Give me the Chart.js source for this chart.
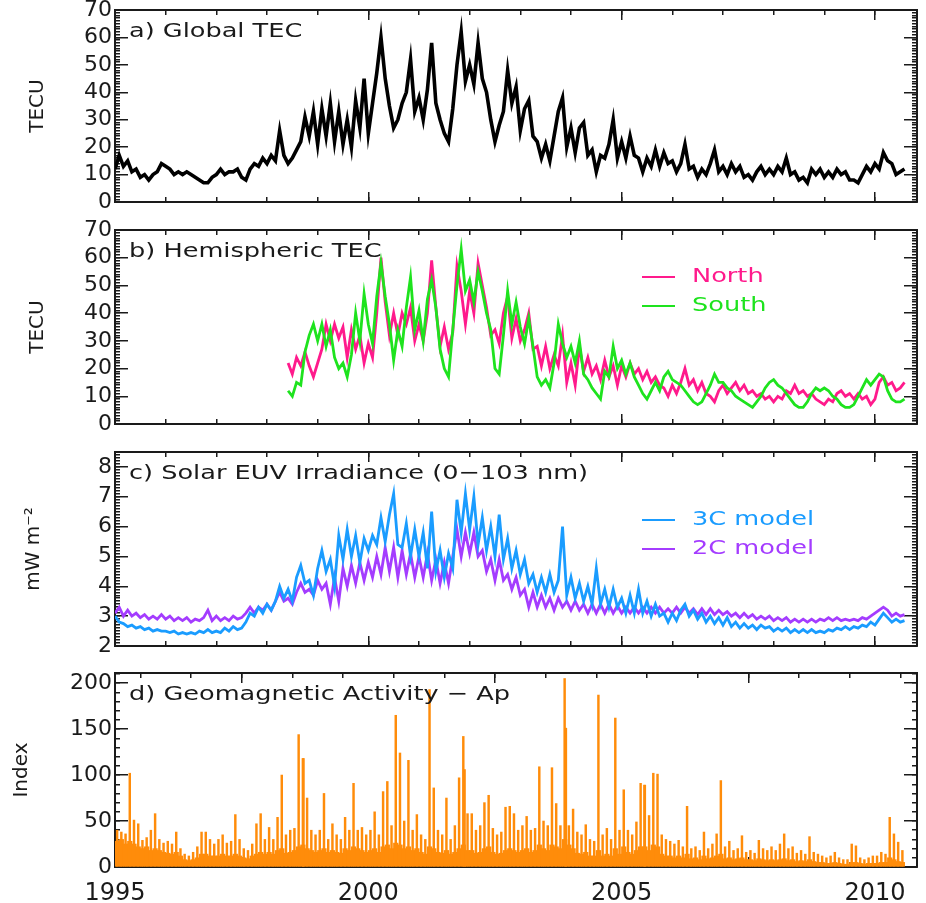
<!DOCTYPE html>
<html lang="en">
<head>
<meta charset="UTF-8">
<title>Global TEC, EUV and Ap, 1995–2010</title>
<script src="https://cdn.jsdelivr.net/npm/chart.js"></script>
<style>
  html, body { margin: 0; padding: 0; background: #fff; }
  #wrap { position: relative; width: 926px; height: 903px; overflow: hidden; }
  #wrap canvas { position: absolute; left: 0; }
</style>
</head>
<body>
<div id="wrap">
  <canvas id="panelA" width="926" height="212" style="top:0px"></canvas>
  <canvas id="panelB" width="926" height="214" style="top:220px"></canvas>
  <canvas id="panelC" width="926" height="214" style="top:442px"></canvas>
  <canvas id="panelD" width="926" height="240" style="top:663px"></canvas>
</div>
<script>
  // --- axis labels ---
  const yearLabels = [1995, 2000, 2005, 2010];
  const tecTicks = [0, 10, 20, 30, 40, 50, 60, 70];
  const euvTicks = [2, 3, 4, 5, 6, 7, 8];
  const apTicks = [0, 50, 100, 150, 200];

  // --- monthly values (Jan 1995 onward) ---
  const tecStart = 1995;
  const globalTec = [
    12,17,13,15,11,12,9,10,8,10,11,14,      // 1995
    13,12,10,11,10,11,10,9,8,7,7,9,         // 1996
    10,12,10,11,11,12,9,8,12,14,13,16,      // 1997
    14,17,15,26,17,14,16,19,22,31,24,33,    // 1998
    21,34,24,36,22,33,21,30,20,37,27,45,    // 1999
    25,36,47,60,45,35,27,30,36,40,52,33,    // 2000
    38,30,41,58,36,30,25,22,34,50,62,44,    // 2001
    50,43,58,45,40,30,22,28,33,48,36,42,    // 2002
    26,34,37,24,22,16,21,15,24,33,38,20,    // 2003
    27,18,27,29,17,19,11,17,16,21,30,16,    // 2004
    22,16,24,17,16,11,16,13,19,13,18,14,    // 2005
    15,11,14,21,12,13,9,12,10,14,19,11,     // 2006
    13,10,14,11,13,9,10,8,11,13,10,12,      // 2007
    10,13,11,16,10,11,8,9,7,12,10,12,       // 2008
    9,11,9,12,10,11,8,8,7,10,13,11,         // 2009
    14,12,18,15,14,10,11,12                 // 2010
  ];

  // hemispheric series start in June 1998
  const hemiStart = 1998 + 5 / 12;
  const northTec = [
    22,18,24,21,26,21,17,                   // 1998
    22,27,36,30,36,31,35,24,34,27,32,22,    // 1999
    29,24,40,60,44,32,40,32,40,36,42,30,    // 2000
    36,30,40,59,42,28,35,27,33,57,48,36,    // 2001
    48,40,58,50,42,32,34,29,40,46,31,38,    // 2002
    30,34,40,27,28,21,28,20,25,21,32,15,    // 2003
    22,14,28,19,24,18,21,16,23,17,21,14,    // 2004
    21,17,22,18,20,16,19,15,17,14,13,10,    // 2005
    14,11,15,20,14,16,12,15,11,10,8,12,     // 2006
    14,11,13,15,12,14,11,12,10,11,9,10,     // 2007
    8,10,9,12,11,14,11,12,10,11,9,8,        // 2008
    7,9,8,11,12,10,11,9,11,9,10,7,          // 2009
    9,15,17,14,15,12,13,15                  // 2010
  ];
  const southTec = [
    12,10,15,14,26,32,36,                   // 1998
    30,36,28,34,24,20,22,17,25,40,30,47,    // 1999
    36,29,46,58,46,36,23,34,28,42,53,34,    // 2000
    41,30,45,52,42,27,20,17,34,50,63,48,    // 2001
    52,44,55,48,40,34,20,18,32,48,36,44,    // 2002
    35,29,38,28,17,14,16,13,22,36,29,24,    // 2003
    28,22,30,18,16,13,11,9,19,17,28,20,     // 2004
    23,18,22,17,14,11,9,12,15,12,17,19,     // 2005
    16,15,14,12,10,8,7,8,11,14,18,15,       // 2006
    15,13,12,10,9,8,7,6,8,10,13,15,         // 2007
    16,14,13,11,9,7,6,6,8,11,13,12,         // 2008
    13,12,10,9,7,6,6,7,10,13,16,14,         // 2009
    16,18,17,12,9,8,8,9                     // 2010
  ];

  const euv3c = [
    3.0,2.8,2.75,2.65,2.7,2.6,2.65,2.55,2.6,2.5,2.55,2.5,
    2.5,2.45,2.5,2.4,2.45,2.4,2.45,2.4,2.5,2.45,2.55,2.45,
    2.5,2.45,2.6,2.5,2.65,2.55,2.6,2.8,3.1,3.0,3.3,3.1,
    3.4,3.2,3.5,4.0,3.6,3.9,3.5,4.3,4.7,4.1,4.2,3.7,
    4.6,5.2,4.5,4.9,4.0,5.7,4.9,5.9,5.0,5.7,4.8,5.6,
    5.2,5.7,5.4,6.3,5.5,6.4,7.1,5.4,5.3,6.1,5.0,5.9,
    5.0,5.8,4.6,6.5,4.5,5.2,4.3,5.1,4.6,6.9,5.8,7.1,
    5.9,7.0,5.4,6.3,5.2,6.0,5.0,6.4,4.9,5.6,4.6,5.2,
    4.4,4.9,4.1,4.4,3.8,4.3,3.8,4.4,3.8,4.2,6.0,3.7,
    4.3,3.6,4.1,3.5,4.0,3.4,4.6,3.4,3.9,3.3,3.9,3.3,
    3.6,3.1,3.7,3.1,3.9,3.1,3.5,3.0,3.4,3.0,3.1,2.8,
    3.1,2.85,3.2,3.4,3.0,3.2,2.9,3.1,2.8,3.0,2.75,2.95,
    2.7,2.95,2.65,2.8,2.6,2.75,2.6,2.7,2.55,2.7,2.6,2.65,
    2.5,2.6,2.5,2.6,2.45,2.55,2.45,2.55,2.45,2.55,2.45,2.5,
    2.45,2.55,2.5,2.6,2.55,2.65,2.55,2.65,2.6,2.7,2.65,2.8,
    2.7,2.9,3.1,2.95,2.8,2.9,2.8,2.85
  ];
  const euv2c = [
    3.1,3.3,3.0,3.2,3.0,3.1,2.95,3.05,2.9,3.0,2.9,3.05,
    2.9,3.0,2.85,2.95,2.85,2.95,2.8,2.9,2.85,2.95,3.2,2.85,
    3.0,2.85,2.95,2.85,3.0,2.9,2.95,3.1,3.3,3.1,3.3,3.2,
    3.4,3.2,3.5,3.8,3.5,3.6,3.4,3.8,4.1,3.8,3.9,3.7,
    4.2,3.9,4.1,3.4,4.3,3.5,4.6,4.0,4.7,4.1,4.8,4.2,
    4.8,4.3,5.0,4.4,5.3,4.5,5.3,4.3,5.2,4.4,5.1,4.3,
    5.0,4.3,5.1,4.2,4.9,4.1,4.8,4.1,5.0,5.9,5.0,5.8,
    5.1,5.8,5.0,5.2,4.5,4.9,4.2,4.9,4.2,4.4,3.9,4.3,
    3.7,3.9,3.3,3.8,3.3,3.7,3.3,3.6,3.2,3.6,3.3,3.5,
    3.2,3.5,3.2,3.4,3.1,3.4,3.1,3.4,3.1,3.4,3.1,3.35,
    3.1,3.3,3.1,3.3,3.1,3.3,3.1,3.3,3.1,3.3,3.1,3.25,
    3.1,3.3,3.1,3.3,3.1,3.25,3.05,3.25,3.05,3.25,3.05,3.2,
    3.05,3.15,3.0,3.1,2.95,3.1,2.95,3.05,2.9,3.0,2.9,3.0,
    2.85,2.95,2.85,2.95,2.8,2.9,2.8,2.9,2.8,2.9,2.8,2.9,
    2.85,2.95,2.85,2.95,2.85,2.9,2.85,2.9,2.85,2.95,2.9,3.0,
    3.1,3.2,3.3,3.2,3.0,3.1,3.0,3.05
  ];

  // Ap: typical daily level and largest daily value of each month
  const apStart = 1995 + 1 / 24;
  const apLevel = [
    28,30,25,28,25,22,20,22,18,20,18,16,
    15,14,16,12,8,7,8,10,14,14,12,12,
    12,14,12,12,14,12,10,9,12,14,16,14,
    16,14,18,20,15,16,18,22,24,20,18,16,
    18,20,16,18,16,15,20,18,22,20,18,16,
    18,20,16,22,24,20,26,24,20,22,18,20,
    16,14,22,20,16,15,18,14,16,20,24,18,
    18,15,16,20,22,16,14,15,18,20,18,16,
    18,20,16,18,24,20,18,24,22,20,30,24,
    20,15,14,16,12,12,18,12,14,12,20,14,
    22,16,14,18,22,22,18,24,22,14,12,12,
    10,12,10,14,9,10,8,12,9,10,12,14,
    9,10,8,9,10,8,8,7,9,8,7,8,
    7,8,9,7,8,6,7,6,8,6,5,5,
    4,4,5,4,3,3,5,5,4,3,4,4,
    4,5,5,10,8,6,5
  ];
  const apMonthMax = [
    40,38,36,102,51,47,29,32,40,58,30,26,
    28,25,38,20,14,12,16,22,38,38,30,25,
    30,35,26,28,57,30,20,18,25,47,58,30,
    43,30,54,100,35,40,42,144,118,75,40,35,
    40,80,30,47,35,30,54,40,91,40,43,35,
    40,60,35,82,93,45,165,124,50,116,40,57,
    35,30,193,86,40,35,75,30,45,97,142,58,
    58,40,45,70,78,42,35,38,65,66,58,40,
    45,55,40,42,109,50,45,108,69,45,205,45,
    63,38,35,46,30,28,187,35,42,30,162,40,
    84,40,35,49,91,89,56,102,101,35,30,28,
    25,29,22,66,20,22,18,38,20,25,36,94,
    22,28,18,20,34,16,18,15,29,20,18,22,
    18,25,36,20,22,15,18,14,33,16,14,12,
    10,12,16,10,8,8,25,23,10,8,10,12,
    12,16,14,54,36,27,18
  ];
  const apStormYears = [1998.72, 2001.9, 2003.9, 2005.45];
  const apStormValues = [118, 106, 151, 89];

  const FONT = '"DejaVu Sans", sans-serif';
  const INK = '#1a1a1a';
  const X_MIN = 1995, X_MAX = 2010.83;
  const everyYear = [];
  for (let yr = 1995; yr <= 2010; yr++) everyYear.push(yr);

  const monthly = (start, vals) => vals.map((v, i) => ({ x: start + i / 12, y: v }));
  const stepList = (min, max, step) => {
    const out = [];
    const n = Math.round((max - min) / step);
    for (let k = 0; k <= n; k++) out.push(+(min + k * step).toFixed(4));
    return out;
  };

  // an axis used only for a frame edge and its inward tick marks
  function edgeAxis(pos, min, max, values, len, border, weight) {
    const horiz = pos === 'top' || pos === 'bottom';
    return {
      type: 'linear', position: pos, axis: horiz ? 'x' : 'y', min, max, offset: false, weight,
      display: true,
      grid: { display: true, drawOnChartArea: false, drawTicks: true, tickLength: -len,
              color: INK, lineWidth: 1.5 },
      border: { display: border, color: INK, width: 2 },
      ticks: { display: false, autoSkip: false },
      afterBuildTicks: s => { s.ticks = values.map(v => ({ value: v })); },
      afterFit: s => {
        if (horiz) s.height = 0; else s.width = 0;
        s.paddingTop = s.paddingBottom = s.paddingLeft = s.paddingRight = 0;
      }
    };
  }

  // panel label and legend drawn inside the plot area (text widened like the original font)
  const STRETCH = 1.28;
  function wideText(ctx, text, x, y) {
    ctx.save();
    ctx.translate(x, y);
    ctx.scale(STRETCH, 1);
    ctx.fillText(text, 0, 0);
    ctx.restore();
  }
  const panelText = {
    id: 'panelText',
    afterDraw(chart, args, o) {
      const { ctx, chartArea: a } = chart;
      ctx.save();
      ctx.font = '20px ' + FONT;
      ctx.textBaseline = 'middle';
      ctx.textAlign = 'left';
      ctx.fillStyle = INK;
      wideText(ctx, o.title, a.left + 14, a.top + 22);
      (o.legend || []).forEach((idx, row) => {
        const ds = chart.data.datasets[idx];
        const ly = a.top + o.legendTop + row * 29;
        ctx.strokeStyle = ds.borderColor;
        ctx.lineWidth = 2;
        ctx.beginPath(); ctx.moveTo(642, ly); ctx.lineTo(675, ly); ctx.stroke();
        ctx.fillStyle = ds.borderColor;
        wideText(ctx, ds.label, 692, ly);
      });
      ctx.restore();
    }
  };

  function makeOptions(p) {
    const yMinor = stepList(p.ymin, p.ymax, p.minor);
    return {
      responsive: false,
      animation: false,
      layout: { padding: { top: 10, right: 9, bottom: p.showX ? 0 : 10, left: 0 } },
      scales: {
        x: {
          type: 'linear', position: 'bottom', min: X_MIN, max: X_MAX, offset: false, weight: 1,
          grid: { display: true, drawOnChartArea: false, drawTicks: true, tickLength: -10,
                  color: INK, lineWidth: 1.5 },
          border: { display: true, color: INK, width: 2 },
          afterBuildTicks: s => { s.ticks = yearLabels.map(v => ({ value: v })); },
          afterFit: s => {
            s.height = p.showX ? 36 : 0;
            s.paddingLeft = s.paddingRight = 0;
          },
          ticks: { display: p.showX, font: { family: FONT, size: 24 }, color: INK, padding: 22,
                   maxRotation: 0, autoSkip: false, callback: v => String(v) }
        },
        xMinor: edgeAxis('bottom', X_MIN, X_MAX, everyYear, 5, false, 0),
        xTop: edgeAxis('top', X_MIN, X_MAX, yearLabels, 10, true, 1),
        xTopMinor: edgeAxis('top', X_MIN, X_MAX, everyYear, 5, false, 0),
        y: {
          type: 'linear', position: 'left', min: p.ymin, max: p.ymax, weight: 1,
          grid: { display: true, drawOnChartArea: false, drawTicks: true, tickLength: -13,
                  color: INK, lineWidth: 1.5 },
          border: { display: true, color: INK, width: 2 },
          afterBuildTicks: s => { s.ticks = p.yTicks.map(v => ({ value: v })); },
          afterFit: s => {
            s.width = 115;
            s.paddingTop = s.paddingBottom = 0;
          },
          ticks: { font: { family: FONT, size: 22 }, color: INK, padding: 16, autoSkip: false },
          title: { display: true, text: p.yTitle, color: INK,
                   font: { family: FONT, size: 20 }, padding: { top: p.titlePad, bottom: 0 } }
        },
        yMinor: edgeAxis('left', p.ymin, p.ymax, yMinor, 5, false, 0),
        yRight: edgeAxis('right', p.ymin, p.ymax, p.yTicks, 13, true, 1),
        yRightMinor: edgeAxis('right', p.ymin, p.ymax, yMinor, 5, false, 0)
      },
      plugins: {
        legend: { display: false },
        tooltip: { enabled: false },
        panelText: { title: p.title, legend: p.legend, legendTop: p.legendTop }
      }
    };
  }

  const lineSet = (label, data, color, width) => ({
    label, data, borderColor: color, backgroundColor: color,
    borderWidth: width, pointRadius: 0, tension: 0, fill: false
  });

  new Chart(document.getElementById('panelA'), {
    type: 'line',
    data: { datasets: [lineSet('Global TEC', monthly(tecStart, globalTec), '#000000', 3.6)] },
    options: makeOptions({ ymin: 0, ymax: 70, yTicks: tecTicks, yTitle: 'TECU', titlePad: 26,
                           title: 'a) Global TEC', minor: 1, showX: false }),
    plugins: [panelText]
  });

  new Chart(document.getElementById('panelB'), {
    type: 'line',
    data: { datasets: [
      lineSet('South', monthly(hemiStart, southTec), '#1ee31e', 2.8),
      lineSet('North', monthly(hemiStart, northTec), '#ff1a8c', 2.8)
    ] },
    options: makeOptions({ ymin: 0, ymax: 70, yTicks: tecTicks, yTitle: 'TECU', titlePad: 26,
                           title: 'b) Hemispheric TEC', minor: 1, showX: false,
                           legend: [1, 0], legendTop: 47 }),
    plugins: [panelText]
  });

  new Chart(document.getElementById('panelC'), {
    type: 'line',
    data: { datasets: [
      lineSet('3C model', monthly(tecStart, euv3c), '#1a9cff', 2.8),
      lineSet('2C model', monthly(tecStart, euv2c), '#a43cff', 2.8)
    ] },
    options: makeOptions({ ymin: 2, ymax: 8.5, yTicks: euvTicks, yTitle: 'mW m⁻²', titlePad: 22,
                           title: 'c) Solar EUV Irradiance (0−103 nm)', minor: 0.1, showX: false,
                           legend: [0, 1], legendTop: 68 }),
    plugins: [panelText]
  });

  const ORANGE = '#ff8c0a';
  new Chart(document.getElementById('panelD'), {
    type: 'bar',
    data: { datasets: [
      { label: 'Ap', data: monthly(apStart, apLevel), backgroundColor: ORANGE, borderColor: ORANGE,
        barThickness: 4.6, grouped: false },
      { label: 'Ap max', data: monthly(apStart, apMonthMax), backgroundColor: ORANGE, borderColor: ORANGE,
        barThickness: 1.8, grouped: false },
      { label: 'Ap storms', data: apStormYears.map((x, i) => ({ x, y: apStormValues[i] })),
        backgroundColor: ORANGE, borderColor: ORANGE, barThickness: 1.8, grouped: false }
    ] },
    options: makeOptions({ ymin: 0, ymax: 211, yTicks: apTicks, yTitle: 'Index', titlePad: 10,
                           title: 'd) Geomagnetic Activity − Ap', minor: 10, showX: true }),
    plugins: [panelText]
  });
</script>
</body>
</html>
